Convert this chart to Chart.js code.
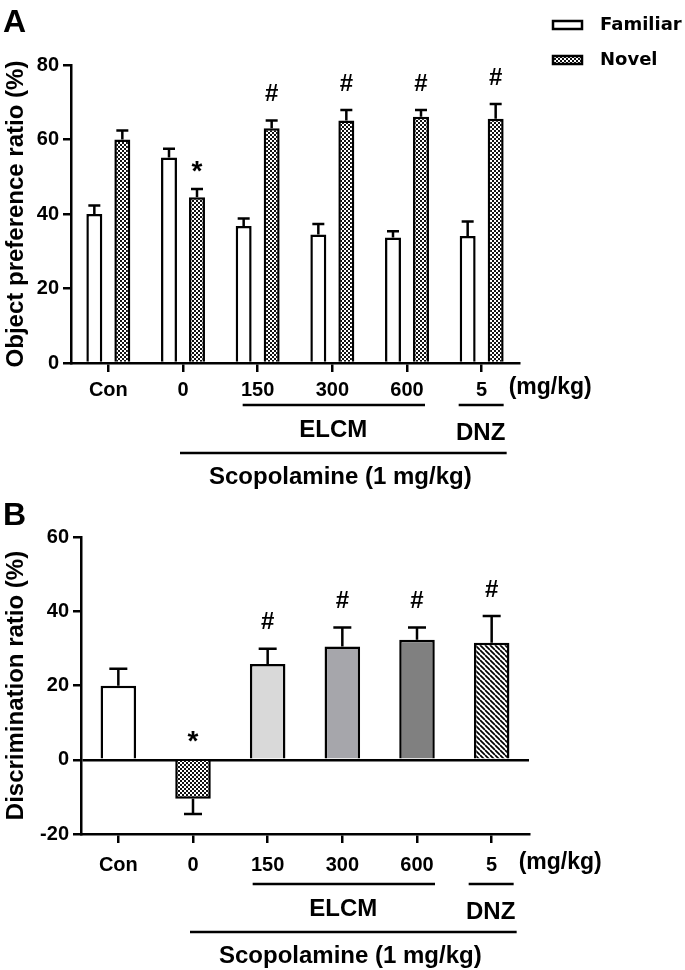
<!DOCTYPE html>
<html>
  <head>
    <title>Object recognition test</title>
    <script src="https://cdn.jsdelivr.net/npm/chart.js@4.4.1/dist/chart.umd.min.js"></script>
    <style>
      body { margin: 0; background: #fff; }
      canvas { position: absolute; left: 0; }
      #chartA { top: 0; }
      #chartB { top: 500px; }
    </style>
  </head>
  <body>
    <canvas id="chartA" width="685" height="500"></canvas>
    <canvas id="chartB" width="685" height="470"></canvas>
    <script>
      // groups on the x axis
      const groups = ['Con', '0', '150', '300', '600', '5'];

      // panel A: object preference ratio (%), mean and SEM
      const familiar = [40.0, 55.2, 36.8, 34.5, 33.7, 34.1];
      const familiarSem = [2.3, 2.3, 2.0, 2.8, 1.7, 3.9];
      const novel = [60.0, 44.5, 63.0, 65.1, 66.1, 65.6];
      const novelSem = [2.4, 2.2, 2.1, 2.8, 1.8, 3.9];
      const novelMarks = ['', '*', '#', '#', '#', '#'];

      // panel B: discrimination ratio (%), mean and SEM
      const discrimination = [19.9, -10.5, 25.8, 30.5, 32.3, 31.5];
      const discriminationSem = [4.6, 4.1, 4.1, 5.1, 3.3, 7.2];
      const discriminationMarks = ['', '*', '#', '#', '#', '#'];

      const unitText = '(mg/kg)';
      const elcmText = 'ELCM';
      const dnzText = 'DNZ';
      const scopText = 'Scopolamine (1 mg/kg)';

      const FONT = "'Liberation Sans', Arial, sans-serif";
      Chart.defaults.font.family = FONT;
      Chart.defaults.font.weight = 'bold';
      Chart.defaults.color = '#000';

      function checker() {
        const c = document.createElement('canvas');
        c.width = 4; c.height = 4;
        const g = c.getContext('2d');
        g.fillStyle = '#fff'; g.fillRect(0, 0, 4, 4);
        g.fillStyle = '#111'; g.fillRect(0, 0, 2, 2); g.fillRect(2, 2, 2, 2);
        return g.createPattern(c, 'repeat');
      }
      function hatch() {
        const c = document.createElement('canvas');
        c.width = 5; c.height = 5;
        const g = c.getContext('2d');
        g.fillStyle = '#fff'; g.fillRect(0, 0, 5, 5);
        g.strokeStyle = '#000'; g.lineWidth = 1.7;
        g.beginPath();
        for (let k = -1; k <= 1; k++) { g.moveTo(k * 5, 0); g.lineTo(k * 5 + 5, 5); }
        g.stroke();
        return g.createPattern(c, 'repeat');
      }

      // error bars, significance marks, group brackets, legend
      const annotate = {
        id: 'annotate',
        afterDatasetsDraw(chart, args, opts) {
          const ctx = chart.ctx, y = chart.scales.y;
          ctx.save();
          ctx.strokeStyle = '#000'; ctx.lineWidth = 2.5; ctx.fillStyle = '#000';
          ctx.textAlign = 'center'; ctx.textBaseline = 'middle';
          chart.data.datasets.forEach((ds, i) => {
            chart.getDatasetMeta(i).data.forEach((bar, j) => {
              const v = ds.data[j], s = ds.sem[j];
              const end = y.getPixelForValue(v >= 0 ? v + s : v - s);
              ctx.beginPath();
              ctx.moveTo(bar.x, bar.y); ctx.lineTo(bar.x, end);
              ctx.moveTo(bar.x - opts.cap / 2, end); ctx.lineTo(bar.x + opts.cap / 2, end);
              ctx.stroke();
              const m = ds.marks && ds.marks[j];
              if (m) {
                const top = v >= 0 ? end : y.getPixelForValue(0);
                if (m === '*') {
                  ctx.font = 'bold 28px ' + FONT;
                  ctx.fillText(m, bar.x, top - 17);
                } else {
                  ctx.font = 'bold 24px ' + FONT;
                  ctx.fillText(m, bar.x, top - 26);
                }
              }
            });
          });
          ctx.restore();
        },
        afterDraw(chart, args, opts) {
          const ctx = chart.ctx, x = chart.scales.x, base = chart.chartArea.bottom;
          const t = i => x.getPixelForValue(i);
          const r = opts.rows;
          ctx.save();
          ctx.fillStyle = '#000'; ctx.strokeStyle = '#000'; ctx.lineWidth = 2.5;
          ctx.textBaseline = 'middle';
          const hline = (x0, x1, yy) => { ctx.beginPath(); ctx.moveTo(x0, yy); ctx.lineTo(x1, yy); ctx.stroke(); };

          ctx.font = 'bold 23px ' + FONT;
          ctx.textAlign = 'left';
          ctx.fillText(unitText, t(5) + 27, base + r.unit);

          hline(t(2) - 15, t(4) + 18, base + r.line);
          hline(t(5) - 23, t(5) + 22, base + r.line);
          hline(t(1) - 3, t(5) + 25, base + r.scopLine);

          ctx.font = 'bold 24px ' + FONT;
          ctx.textAlign = 'center';
          ctx.fillText(elcmText, t(3) + 1, base + r.elcm);
          ctx.fillText(dnzText, t(5) - 1, base + r.dnz);
          ctx.fillText(scopText, (t(1) + t(5)) / 2 + 8, base + r.scop);

          ctx.font = 'bold 32px ' + FONT;
          ctx.textAlign = 'left'; ctx.textBaseline = 'alphabetic';
          ctx.fillText(opts.panel, 3, opts.panelY);

          if (opts.legend) {
            ctx.lineWidth = 2.5;
            chart.data.datasets.forEach((ds, i) => {
              const yy = 25 + i * 35;
              ctx.fillStyle = ds.backgroundColor;
              ctx.fillRect(553, yy - 4, 29, 8);
              ctx.strokeRect(553, yy - 4, 29, 8);
              ctx.fillStyle = '#000';
              ctx.font = "bold 18px 'DejaVu Sans', sans-serif";
              ctx.textBaseline = 'middle';
              ctx.fillText(ds.label, 600, yy);
            });
          }
          ctx.restore();
        }
      };

      function yAxis(min, max, title, width) {
        return {
          min: min, max: max,
          ticks: { stepSize: 20, padding: 4, font: { size: 20, weight: 'bold' } },
          grid: {
            drawOnChartArea: min < 0,
            color: c => (c.tick && c.tick.value === 0 ? '#000' : 'rgba(0,0,0,0)'),
            tickColor: '#000', tickLength: 8, lineWidth: 2.5
          },
          border: { color: '#000', width: 2.5 },
          title: { display: true, text: title, font: { size: 24, weight: 'bold' }, padding: { top: 2, bottom: 0 } },
          afterFit: s => { s.width = width; }
        };
      }
      function xAxis(pad, height) {
        return {
          offset: true,
          ticks: { padding: pad, autoSkip: false, maxRotation: 0, font: { size: 20, weight: 'bold' } },
          grid: { offset: false, drawOnChartArea: false, tickColor: '#000', tickLength: 9, lineWidth: 2.5 },
          border: { color: '#000', width: 2.5 },
          afterFit: s => { s.height = height; }
        };
      }

      const pat = checker();

      new Chart(document.getElementById('chartA'), {
        type: 'bar',
        data: {
          labels: groups,
          datasets: [
            { label: 'Familiar', data: familiar, sem: familiarSem, backgroundColor: '#fff' },
            { label: 'Novel', data: novel, sem: novelSem, marks: novelMarks, backgroundColor: pat }
          ]
        },
        options: {
          responsive: false,
          animation: false,
          datasets: { bar: { borderColor: '#000', borderWidth: 2.5, categoryPercentage: 0.75, barPercentage: 0.57 } },
          layout: { padding: { left: 0, top: 65, right: 166, bottom: 97 } },
          scales: { x: xAxis(6, 40), y: yAxis(0, 80, 'Object preference ratio (%)', 71) },
          plugins: {
            legend: { display: false },
            tooltip: { enabled: false },
            annotate: {
              cap: 12, panel: 'A', panelY: 32, legend: true,
              rows: { unit: 25, line: 42, elcm: 67, dnz: 70, scopLine: 90, scop: 114 }
            }
          }
        },
        plugins: [annotate]
      });

      new Chart(document.getElementById('chartB'), {
        type: 'bar',
        data: {
          labels: groups,
          datasets: [
            {
              label: 'Discrimination ratio',
              data: discrimination, sem: discriminationSem, marks: discriminationMarks,
              backgroundColor: ['#fff', pat, '#d9d9d9', '#a6a6ab', '#808080', hatch()]
            }
          ]
        },
        options: {
          responsive: false,
          animation: false,
          datasets: { bar: { borderColor: '#000', borderWidth: 2.5, categoryPercentage: 0.8, barPercentage: 0.595 } },
          layout: { padding: { left: 0, top: 37, right: 156, bottom: 92 } },
          scales: { x: xAxis(10, 44), y: yAxis(-20, 60, 'Discrimination ratio (%)', 81) },
          plugins: {
            legend: { display: false },
            tooltip: { enabled: false },
            annotate: {
              cap: 18, panel: 'B', panelY: 25, legend: false,
              rows: { unit: 29, line: 50, elcm: 75, dnz: 78, scopLine: 98, scop: 122 }
            }
          }
        },
        plugins: [annotate]
      });
    </script>
  </body>
</html>
